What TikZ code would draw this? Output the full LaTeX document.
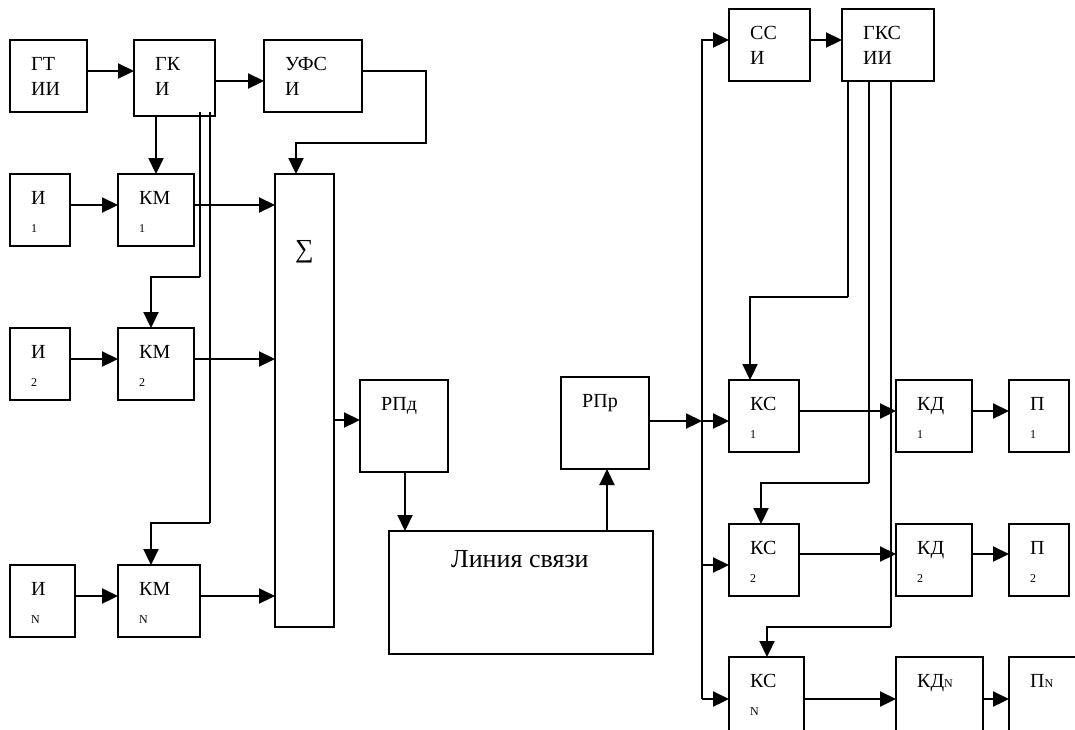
\documentclass[tikz,border=0pt]{standalone}
\usepackage{fontspec}
\setmainfont{Liberation Serif}
\usetikzlibrary{arrows.meta,calc}
\newcommand\blk[6]{\node[box,minimum width=#4pt,minimum height=#5pt] (#1) at (#2,#3) {};
  \node[txt] (#1-t) at ([shift={(21,30)}]#1.north west) {#6};}
\newcommand\secl[2]{\node[txt] (#1-s) at ([shift={(21,55)}]#1.north west) {#2};}
\newcommand\subl[2]{\node[subt] (#1-s) at ([shift={(21,58)}]#1.north west) {#2};}
\begin{document}
\begin{tikzpicture}[x=1pt,y=-1pt,
  box/.style={draw, line width=2pt, anchor=north west, inner sep=0pt, outer sep=0pt},
  txt/.style={anchor=base west, inner sep=0pt, font=\fontsize{20}{24}\selectfont},
  subt/.style={anchor=base west, inner sep=0pt, font=\fontsize{12}{14}\selectfont},
  arr/.style={line width=2.2pt, -{Triangle[length=16pt,width=15pt]}},
  wire/.style={line width=1.7pt},
  ln/.style={line width=2.2pt}]
\clip (0,0) rectangle (1075,729);
\fill[white] (0,0) rectangle (1075,729);
% left blocks
\blk{gtii}{10}{40}{77}{72}{ГТ} \secl{gtii}{ИИ}
\blk{gki}{134}{40}{81}{76}{ГК} \secl{gki}{И}
\blk{ufsi}{264}{40}{98}{72}{УФС} \secl{ufsi}{И}
\blk{i1}{10}{174}{60}{72}{И} \subl{i1}{1}
\blk{km1}{118}{174}{76}{72}{КМ} \subl{km1}{1}
\blk{i2}{10}{328}{60}{72}{И} \subl{i2}{2}
\blk{km2}{118}{328}{76}{72}{КМ} \subl{km2}{2}
\blk{iN}{10}{565}{65}{72}{И} \subl{iN}{N}
\blk{kmN}{118}{565}{82}{72}{КМ} \subl{kmN}{N}
\node[box, minimum width=59pt, minimum height=453pt] (sum) at (275,174) {};
\node[anchor=base west, inner sep=0pt, font=\fontsize{26}{30}\selectfont] (sum-t) at ([shift={(20,83)}]sum.north west) {∑};
\blk{rpd}{360}{380}{88}{92}{РПд}
\node[box, minimum width=264pt, minimum height=123pt] (link) at (389,531) {};
\node[anchor=base west, inner sep=0pt, font=\fontsize{26}{30}\selectfont] (link-t) at ([shift={(62,36)}]link.north west) {Линия связи};
\blk{rpr}{561}{377}{88}{92}{РПр}
% right blocks
\blk{ssi}{729}{9}{81}{72}{СС} \secl{ssi}{И}
\blk{gks}{842}{9}{92}{72}{ГКС} \secl{gks}{ИИ}
\blk{ks1}{729}{380}{70}{72}{КС} \subl{ks1}{1}
\blk{kd1}{896}{380}{76}{72}{КД} \subl{kd1}{1}
\blk{p1}{1009}{380}{60}{72}{П} \subl{p1}{1}
\blk{ks2}{729}{524}{70}{72}{КС} \subl{ks2}{2}
\blk{kd2}{896}{524}{76}{72}{КД} \subl{kd2}{2}
\blk{p2}{1009}{524}{60}{72}{П} \subl{p2}{2}
\blk{ksN}{729}{657}{75}{90}{КС} \subl{ksN}{N}
\blk{kdN}{896}{657}{87}{90}{КД{\fontsize{12}{14}\selectfont N}}
\blk{pN}{1009}{657}{80}{90}{П{\fontsize{12}{14}\selectfont N}}
% connectors, left part
\draw[arr] ([yshift=-31pt]gtii.north east) -- ([yshift=-31pt]gki.north west);
\draw[arr] ([yshift=-41pt]gki.north east) -- ([yshift=-41pt]ufsi.north west);
\draw[arr] ([yshift=-31pt]ufsi.north east) -| (426,143) -| ([xshift=21pt]sum.north west);
\draw[arr] (km1.north |- gki.south) -- (km1.north);
\coordinate (g2) at (200,277);
\coordinate (g3) at (210,523);
\draw[wire] ([shift={(-15,-4)}]gki.south east) -- (g2);
\draw[arr] (g2) -| ([xshift=-5pt]km2.north);
\draw[wire] ([shift={(-5,-4)}]gki.south east) -- (g3);
\draw[arr] (g3) -| ([xshift=-8pt]kmN.north);
\draw[arr] ([yshift=-31pt]i1.north east) -- ([yshift=-31pt]km1.north west);
\draw[arr] ([yshift=-31pt]i2.north east) -- ([yshift=-31pt]km2.north west);
\draw[arr] ([yshift=-31pt]iN.north east) -- ([yshift=-31pt]kmN.north west);
\coordinate (k1) at ([yshift=-31pt]km1.north east);
\coordinate (k2) at ([yshift=-31pt]km2.north east);
\coordinate (kN) at ([yshift=-31pt]kmN.north east);
\draw[arr] (k1) -- (k1 -| sum.west);
\draw[arr] (k2) -- (k2 -| sum.west);
\draw[arr] (kN) -- (kN -| sum.west);
\coordinate (s1) at ([yshift=-40pt]rpd.north west);
\draw[arr] (s1 -| sum.east) -- (s1);
\coordinate (r1) at ([xshift=45pt]rpd.south west);
\draw[arr] (r1) -- (r1 |- link.north);
\coordinate (r2) at ([xshift=46pt]rpr.south west);
\draw[arr] (r2 |- link.north) -- (r2);
% bus and right part
\coordinate (bus) at (702,40);
\coordinate (r3) at ([yshift=-44pt]rpr.north east);
\draw[arr] (r3) -- (r3 -| bus);
\coordinate (b1) at ([yshift=-41pt]ks1.north west);
\coordinate (b2) at ([yshift=-41pt]ks2.north west);
\coordinate (bN) at ([yshift=-42pt]ksN.north west);
\draw[arr] (bN -| bus) |- ([yshift=-31pt]ssi.north west);
\draw[arr] (b1 -| bus) -- (b1);
\draw[arr] (b2 -| bus) -- (b2);
\draw[arr] (bN -| bus) -- (bN);
\draw[arr] ([yshift=-31pt]ssi.north east) -- ([yshift=-31pt]gks.north west);
\coordinate (c1) at ([shift={(6,216)}]gks.south west);
\coordinate (c2) at ([shift={(27,402)}]gks.south west);
\coordinate (c3) at ([shift={(49,546)}]gks.south west);
\draw[wire] ([xshift=6pt]gks.south west) -- (c1);
\draw[arr] (c1) -| ([xshift=21pt]ks1.north west);
\draw[wire] ([xshift=27pt]gks.south west) -- (c2);
\draw[arr] (c2) -| ([xshift=32pt]ks2.north west);
\draw[wire] ([xshift=49pt]gks.south west) -- (c3);
\draw[arr] (c3) -| ([xshift=38pt]ksN.north west);
\coordinate (d1) at ([yshift=-31pt]ks1.north east);
\coordinate (d2) at ([yshift=-30pt]ks2.north east);
\coordinate (dN) at ([yshift=-42pt]ksN.north east);
\draw[arr] (d1) -- (d1 -| kd1.west);
\draw[arr] (d2) -- (d2 -| kd2.west);
\draw[arr] (dN) -- (dN -| kdN.west);
\coordinate (e1) at ([yshift=-31pt]kd1.north east);
\coordinate (e2) at ([yshift=-30pt]kd2.north east);
\coordinate (eN) at ([yshift=-42pt]kdN.north east);
\draw[arr] (e1) -- (e1 -| p1.west);
\draw[arr] (e2) -- (e2 -| p2.west);
\draw[arr] (eN) -- (eN -| pN.west);
\end{tikzpicture}
\end{document}
